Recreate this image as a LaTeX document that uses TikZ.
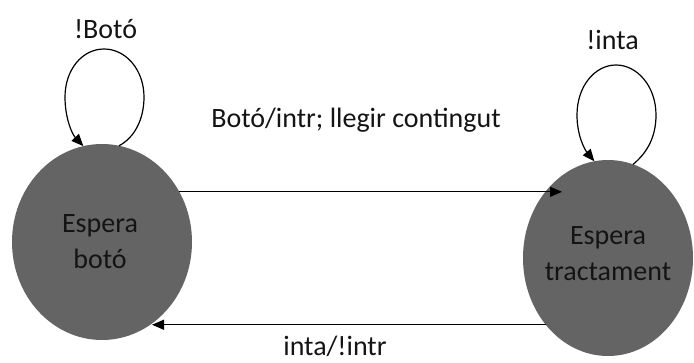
\documentclass[tikz,border=0pt]{standalone}
\usepackage{fontspec}
\setmainfont{Carlito}
\usetikzlibrary{arrows.meta,shapes.geometric}
\definecolor{stategray}{RGB}{100,100,100}
\definecolor{ink}{RGB}{20,20,20}
\begin{document}
\begin{tikzpicture}[x=1pt,y=-1pt,
  font=\fontsize{28}{36}\selectfont,
  state/.style={ellipse, fill=stategray, draw=none, inner sep=0pt, outer sep=0pt},
  statelabel/.style={align=center, text=ink, inner sep=0pt},
  trans/.style={line width=1.2pt, -{Triangle[length=12pt,width=10pt]}},
  tlabel/.style={anchor=base, inner sep=0pt, text=ink}]
  \useasboundingbox (0,0) rectangle (694,362);

  % states
  \node[state, minimum width=180pt, minimum height=196pt,
        label={[statelabel, xshift=-2pt]center:Espera\\botó}] (L) at (102,242) {};
  \node[state, minimum width=170pt, minimum height=196pt,
        label={[statelabel, yshift=4pt]center:Espera\\tractament}] (R) at (608,258) {};

  % self loops
  \draw[trans] (L.80) .. controls (134,138) and (144,120) .. (144,97)
    .. controls (144,70) and (126,49) .. (104,49)
    .. controls (82,49) and (65,70) .. (65,97)
    .. controls (65,118) and (72,134) .. (L.101);
  \draw[trans] (R.75.5) .. controls (648,152) and (656,136) .. (656,115)
    .. controls (656,86) and (637,65) .. (616,65)
    .. controls (595,65) and (577,86) .. (577,115)
    .. controls (577,136) and (585,150) .. (R.98);

  % transitions between states
  \draw[trans, shorten >=46pt] (L.33) -- (L.33 -| R.center);
  \draw[trans, shorten >=50pt] (R.227.6) -- (R.227.6 -| L.center);

  % labels
  \node[tlabel] (l1) at (105.5,38) {!Botó};
  \node[tlabel] (l2) at (612.5,49) {!inta};
  \node[tlabel] (l3) at (356,127) {Botó/intr; llegir contingut};
  \node[tlabel] (l4) at (335,355) {inta/!intr};
\end{tikzpicture}
\end{document}
